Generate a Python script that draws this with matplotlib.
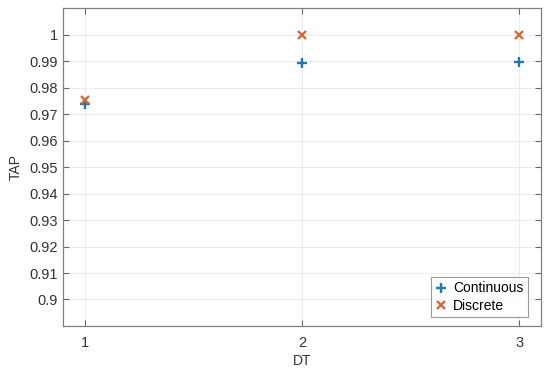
import matplotlib
matplotlib.use("Agg")
import matplotlib.pyplot as plt
import numpy as np

dt = [1, 2, 3]
continuous = [0.9736, 0.9892, 0.9897]
discrete = [0.9751, 1.0, 1.0]
yticks = [0.90, 0.91, 0.92, 0.93, 0.94, 0.95, 0.96, 0.97, 0.98, 0.99, 1.00]
ytick_labels = ["0.9", "0.91", "0.92", "0.93", "0.94", "0.95", "0.96", "0.97", "0.98", "0.99", "1"]

plt.rcParams['font.family'] = ['Liberation Sans', 'DejaVu Sans']

fig = plt.figure(figsize=(5.5, 3.71), dpi=100)
ax = fig.add_axes([0.1145, 0.1213, 0.8691, 0.8571])

ax.plot(dt, continuous, linestyle='none', marker='+', color='#1F78AE',
        markersize=7.5, markeredgewidth=1.7, label='Continuous')
ax.plot(dt, discrete, linestyle='none', marker='x', color='#D4693A',
        markersize=5.5, markeredgewidth=1.7, label='Discrete')

ax.set_xlim(0.9, 3.1)
ax.set_ylim(0.89, 1.01)
ax.set_xticks(dt)
ax.set_xticklabels([str(v) for v in dt])
ax.set_yticks(yticks)
ax.set_yticklabels(ytick_labels)

ax.grid(True, color='#262626', alpha=0.10, linewidth=0.6)
ax.tick_params(direction='in', top=True, right=True, length=4, width=0.8,
               colors='#666666', labelsize=10.5, labelcolor='#333333')
ax.tick_params(axis='x', pad=7)
for s in ax.spines.values():
    s.set_color('#808080')
    s.set_linewidth(0.9)

ax.set_xlabel('DT', fontsize=10, color='#333333', labelpad=3)
ax.set_ylabel('TAP', fontsize=10, color='#333333', labelpad=5)

leg = ax.legend(loc='lower right', bbox_to_anchor=(0.972, 0.028), fontsize=10,
                frameon=True, fancybox=False, handlelength=0.8,
                handletextpad=0.5, borderpad=0.3, labelspacing=0.25,
                borderaxespad=0)
leg.get_frame().set_edgecolor('#808080')
leg.get_frame().set_linewidth(0.8)

fig.savefig('out.png', dpi=100)
